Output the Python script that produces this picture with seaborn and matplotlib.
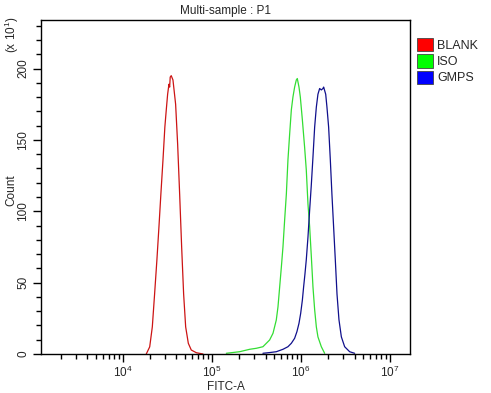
import matplotlib
matplotlib.use("Agg")
import matplotlib.pyplot as plt
from matplotlib.patches import Patch
from matplotlib.ticker import MultipleLocator
import seaborn as sns
import pandas as pd

# ---data (FITC-A intensity, count / 10)---
blank_fitc = [18300, 20000, 21400, 22700, 24100, 25400, 26700, 28200, 29600, 30700, 31800,
              32900, 33500, 34000, 34900, 36500, 39100, 41200, 43400, 45700, 48100, 50700,
              54300, 58600, 66800, 79400]
blank_count = [0, 5, 19, 42, 66, 89, 112, 136, 159, 171, 182,
               189, 187, 194, 195, 192, 175, 147, 112, 75, 42, 19,
               7.5, 2.8, 0.9, 0]

iso_fitc = [145200, 204600, 265500, 315500, 374100, 444600, 485300, 528400, 552100, 576800,
            602600, 628100, 656100, 685500, 714500, 746400, 779800, 812800, 849200, 887200,
            909900, 950600, 984000, 1037600, 1099000, 1148000, 1199500, 1253000, 1309000,
            1364600, 1425600, 1489000, 1552000, 1694000, 1845000]
iso_count = [0.5, 1.6, 3.3, 4.0, 5.1, 9.8, 14.5, 23.8, 33, 47,
             61, 75, 94, 112, 136, 154, 171, 180, 187, 192,
             193, 187, 180, 164, 145, 129, 105, 89, 68,
             47, 31, 19, 12, 5.1, 0.5]

gmps_fitc = [374100, 444600, 528400, 628100, 714500, 779800, 849200, 901600, 950600, 993100,
             1037600, 1071500, 1109000, 1148000, 1199500, 1253000, 1309000, 1364600, 1425600,
             1489000, 1552000, 1622000, 1694000, 1766000, 1799000, 1897000, 1959000, 2046000,
             2138000, 2228000, 2328000, 2432000, 2541000, 2673000, 2844000, 3097000, 3524000,
             4009000]
gmps_count = [0.5, 1.0, 1.6, 3.3, 5.1, 7.5, 11.0, 15.7, 21.5, 28.5,
              37.8, 47, 56, 66, 82, 101, 119, 138, 159,
              173, 182, 186, 185, 186, 187, 182, 173, 159,
              136, 112, 89, 66, 42, 24, 12, 5.1, 1.6,
              0.5]

samples = ["BLANK", "ISO", "GMPS"]
line_colors = ["#CC1414", "#33DD33", "#10108C"]
legend_colors = ["#FF0000", "#00FF00", "#0000FF"]

df = pd.concat([
    pd.DataFrame({"sample": "BLANK", "fitc": blank_fitc, "count": blank_count}),
    pd.DataFrame({"sample": "ISO", "fitc": iso_fitc, "count": iso_count}),
    pd.DataFrame({"sample": "GMPS", "fitc": gmps_fitc, "count": gmps_count}),
], ignore_index=True)

sns.set_style("ticks")
plt.rcParams["font.family"] = ["Liberation Sans", "DejaVu Sans"]
plt.rcParams["mathtext.default"] = "regular"

fig, ax = plt.subplots(figsize=(4.91, 3.93), dpi=100)
fig.subplots_adjust(left=41/491, right=410/491, bottom=1-354/393, top=1-20/393)

sns.lineplot(data=df, x="fitc", y="count", hue="sample", hue_order=samples,
             palette=dict(zip(samples, line_colors)), estimator=None, sort=False,
             linewidth=0.9, legend=False, ax=ax)

ax.set_xscale("log")
ax.set_xlim(10**3.08, 10**7.225)
ax.set_ylim(0, 234)
ax.yaxis.set_major_locator(MultipleLocator(50))
ax.yaxis.set_minor_locator(MultipleLocator(10))

for s in ax.spines.values():
    s.set_color("black")
    s.set_linewidth(1.0)
ax.tick_params(which="major", length=6, width=1, color="black", labelsize=8.5, pad=1.5)
ax.tick_params(which="minor", length=3.5, width=1, color="black")
ax.tick_params(axis="y", pad=2.5)
for lab in ax.get_yticklabels():
    lab.set_rotation(90)
    lab.set_va("center")

ax.set_xlabel("FITC-A", fontsize=8.5, labelpad=1)
ax.set_ylabel("")
fig.text(11/491, 1-190/393, "Count", rotation=90, fontsize=8.5, ha="center", va="center")
ax.set_title("Multi-sample : P1", fontsize=8.5, pad=4)
fig.text(12/491, 1-35/393, "(x 10$^1$)", rotation=90, fontsize=8.5, ha="center", va="center")

handles = [Patch(facecolor=c, edgecolor="#444444", linewidth=0.6) for c in legend_colors]
fig.legend(handles, samples, loc="upper left", bbox_to_anchor=(417/491, 1-38/393),
           frameon=False, fontsize=9, handlelength=1.25, handleheight=1.25,
           handletextpad=0.35, labelspacing=0.2, borderaxespad=0, borderpad=0)

fig.savefig("out.png", dpi=100)
